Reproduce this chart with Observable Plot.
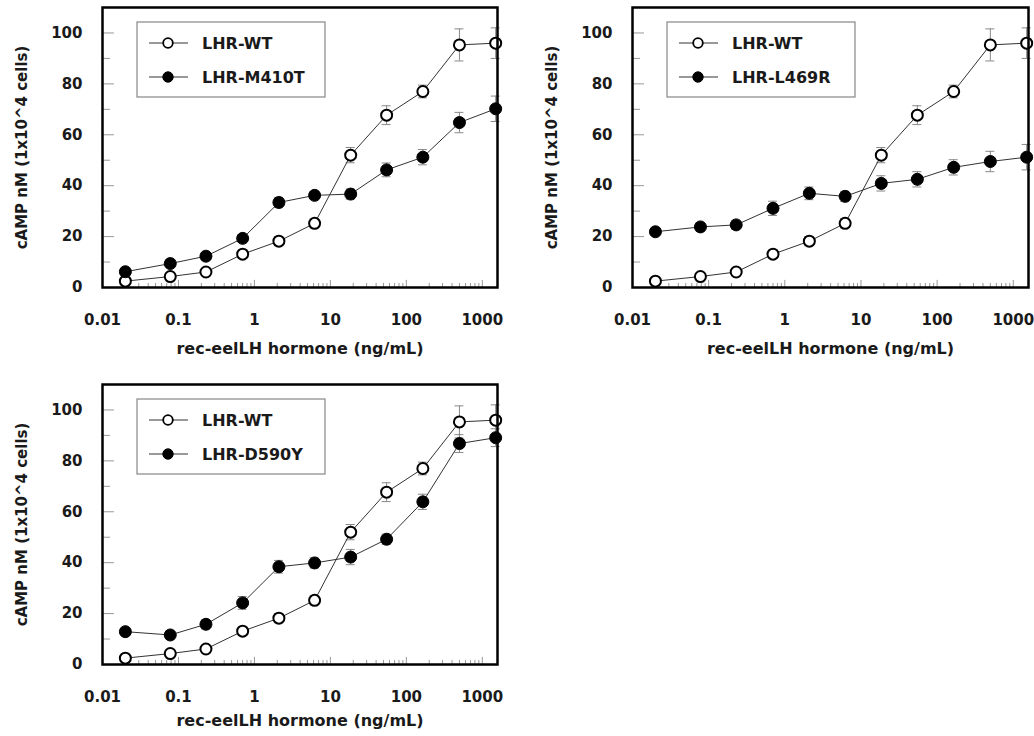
<!DOCTYPE html>
<html><head><meta charset="utf-8">
<script src="https://cdn.jsdelivr.net/npm/d3@7"></script>
<script src="https://cdn.jsdelivr.net/npm/@observablehq/plot@0.6"></script>
<style>
body{margin:0;background:#fff;}
#wrap{position:relative;width:1034px;height:736px;background:#fff;overflow:hidden;}
.panel{position:absolute;}
.panel svg{overflow:visible;}
</style></head><body><div id="wrap"></div>
<script>
// Doses (ng/mL)
const doses = [0.02, 0.078, 0.23, 0.7, 2.1, 6.2, 18.5, 55, 165, 500, 1500];
// LHR-WT (same in every panel)
const wtMean = [2.5, 4.3, 6.1, 13.1, 18.2, 25.2, 52, 67.7, 77, 95.3, 96];
const wtErr  = [0.8, 1.0, 1.2, 1.5, 1.8, 1.8, 3.0, 3.7, 2.5, 6.3, 6.0];
// Mutants
const m410tMean = [6.2, 9.4, 12.3, 19.3, 33.4, 36.2, 36.7, 46.2, 51.2, 64.8, 70.2];
const m410tErr  = [1.0, 1.2, 1.5, 1.5, 2.0, 1.5, 2.0, 2.7, 3.0, 4.0, 5.0];
const l469rMean = [21.9, 23.8, 24.6, 31.1, 37.0, 35.8, 40.9, 42.5, 47.2, 49.5, 51.2];
const l469rErr  = [1.2, 1.5, 1.8, 2.8, 2.5, 2.0, 3.0, 3.0, 3.0, 4.0, 5.0];
const d590yMean = [12.9, 11.6, 15.8, 24.2, 38.4, 39.9, 42.2, 49.2, 63.9, 86.8, 89.1];
const d590yErr  = [1.2, 1.5, 1.8, 2.5, 2.5, 2.0, 3.0, 2.0, 3.0, 3.5, 3.5];

const xTicks = [0.01, 0.1, 1, 10, 100, 1000];
const yTicks = [0, 20, 40, 60, 80, 100];
const yMinor = [10, 30, 50, 70, 90];
const xMinor = [];
for (let k = -2; k <= 3; k++) for (let m = 2; m <= 9; m++) { const v = m * Math.pow(10, k); if (v < 1585) xMinor.push(v); }
const xMajorInner = [0.1, 1, 10, 100, 1000];

const xTitle = "rec-eelLH hormone (ng/mL)";
const yTitle = "cAMP nM (1x10^4 cells)";

const panels = [
  {left: 0, top: 0, width: 517, height: 370, mr: 20, titleDy: 66, mut: m410tMean, mutErr: m410tErr, label: "LHR-M410T"},
  {left: 530, top: 0, width: 504, height: 370, mr: 6, titleDy: 66, mut: l469rMean, mutErr: l469rErr, label: "LHR-L469R"},
  {left: 0, top: 377, width: 517, height: 359, mr: 20, titleDy: 61, mut: d590yMean, mutErr: d590yErr, label: "LHR-D590Y"}
];

const FONT = "'DejaVu Sans', Verdana, sans-serif";
const wrap = document.getElementById("wrap");

function rows(means, errs, series) {
  return doses.map((d, i) => ({dose: d, v: means[i], e: errs[i], series}));
}

panels.forEach(p => {
  const ml = 102, mt = 7, mb = p.height - 287;
  const wt = rows(wtMean, wtErr, "LHR-WT");
  const mu = rows(p.mut, p.mutErr, p.label);
  const capF = 1.146;
  const errMarks = data => [
    Plot.ruleX(data, {x: "dose", y1: d => d.v - d.e, y2: d => d.v + d.e, stroke: "#888", strokeWidth: 1}),
    Plot.ruleY(data, {y: d => d.v + d.e, x1: d => d.dose / capF, x2: d => d.dose * capF, stroke: "#888", strokeWidth: 1}),
    Plot.ruleY(data, {y: d => d.v - d.e, x1: d => d.dose / capF, x2: d => d.dose * capF, stroke: "#888", strokeWidth: 1})
  ];
  const chart = Plot.plot({
    width: p.width, height: p.height,
    marginLeft: ml, marginRight: p.mr, marginTop: mt, marginBottom: mb,
    style: {fontFamily: FONT, fontWeight: "bold", fontSize: "15px", color: "#1a1a1a", background: "transparent"},
    x: {type: "log", domain: [0.01, 1585]},
    y: {domain: [0, 110]},
    marks: [
      // inner ticks
      Plot.ruleY(yTicks, {y: d => d, x1: 0.01, x2: 0.01 * 1.438, stroke: "#999", strokeWidth: 1}),
      Plot.ruleY(yMinor, {y: d => d, x1: 0.01, x2: 0.01 * 1.274, stroke: "#999", strokeWidth: 1}),
      Plot.ruleX(xMinor, {x: d => d, y1: 0, y2: 1.6, stroke: "#999", strokeWidth: 1}),
      Plot.ruleX(xMajorInner, {x: d => d, y1: 0, y2: 2.8, stroke: "#999", strokeWidth: 1}),
      Plot.axisX({ticks: xTicks, tickFormat: d => String(d), tickSize: 0, tickPadding: 27, label: null, fontSize: 15}),
      Plot.axisY({ticks: yTicks, tickSize: 0, tickPadding: 20, label: null, fontSize: 15}),
      ...errMarks(wt),
      ...errMarks(mu),
      Plot.line(wt, {x: "dose", y: "v", stroke: "#333", strokeWidth: 1}),
      Plot.line(mu, {x: "dose", y: "v", stroke: "#333", strokeWidth: 1}),
      Plot.dot(wt, {x: "dose", y: "v", r: 5.5, fill: "white", stroke: "black", strokeWidth: 2}),
      Plot.dot(mu, {x: "dose", y: "v", r: 6, fill: "black", stroke: "black", strokeWidth: 1}),
      Plot.frame({stroke: "black", strokeWidth: 2.5}),
      Plot.text([xTitle], {frameAnchor: "bottom", textAnchor: "middle", dy: p.titleDy, fontSize: 16, fill: "#1a1a1a"}),
      Plot.text([yTitle], {frameAnchor: "left", textAnchor: "middle", dx: -80, rotate: -90, fontSize: 15, fill: "#1a1a1a"})
    ]
  });
  // legend box inside frame
  const svg = d3.select(chart);
  const g = svg.append("g").attr("font-family", FONT).attr("font-weight", "bold").attr("font-size", 16).attr("text-anchor", "start");
  g.append("rect").attr("x", ml + 35).attr("y", mt + 15).attr("width", 188).attr("height", 75)
    .attr("fill", "white").attr("stroke", "#888").attr("stroke-width", 1.2);
  [["LHR-WT", "white", 36], [p.label, "black", 70]].forEach(([name, fill, dy]) => {
    g.append("line").attr("x1", ml + 47).attr("x2", ml + 86).attr("y1", mt + dy).attr("y2", mt + dy)
      .attr("stroke", "#333").attr("stroke-width", 1);
    g.append("circle").attr("cx", ml + 66).attr("cy", mt + dy).attr("r", fill === "white" ? 4.8 : 5.2)
      .attr("fill", fill).attr("stroke", "black").attr("stroke-width", fill === "white" ? 1.8 : 1);
    g.append("text").attr("x", ml + 100).attr("y", mt + dy).attr("dy", "0.36em").attr("text-anchor", "start")
      .attr("fill", "#1a1a1a").text(name);
  });
  const div = document.createElement("div");
  div.className = "panel";
  div.style.left = p.left + "px";
  div.style.top = p.top + "px";
  div.appendChild(chart);
  wrap.appendChild(div);
});
</script>
</body></html>
